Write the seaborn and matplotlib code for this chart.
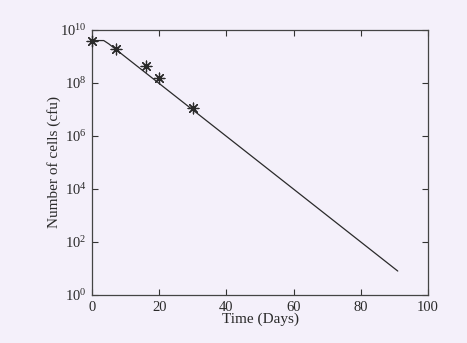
import numpy as np
import pandas as pd
import seaborn as sns
import matplotlib
matplotlib.use("Agg")
import matplotlib.pyplot as plt

# measured points (asterisks)
obs_days = [0, 7, 16, 20, 30]
obs_cells = [4.0e9, 2.0e9, 4.2e8, 1.6e8, 1.1e7]

# fitted curve: short lag, then log-linear decline
fit_days = [0, 3.5, 5, 91]
fit_cells = [4.0e9, 4.0e9, 3.0e9, 8.0]

obs = pd.DataFrame({"day": obs_days, "cells": obs_cells})
fit = pd.DataFrame({"day": fit_days, "cells": fit_cells})

sns.set_style("ticks")
plt.rcParams["font.family"] = ["Liberation Serif", "DejaVu Serif"]
plt.rcParams["font.size"] = 10.5

bg = "#f4f0fa"
fig = plt.figure(figsize=(4.67, 3.43), dpi=100, facecolor=bg)
ax = fig.add_axes([0.197, 0.140, 0.7195, 0.7725])
ax.set_facecolor(bg)

sns.lineplot(data=fit, x="day", y="cells", color="#2a2a2a", linewidth=0.9, ax=ax)
sns.scatterplot(data=obs, x="day", y="cells", marker=(8, 2, 0), s=60,
                color="#2a2a2a", edgecolor="#2a2a2a", linewidth=0.9, ax=ax,
                zorder=3, clip_on=False)

ax.set_yscale("log")
ax.set_xlim(0, 100)
ax.set_ylim(1, 1e10)
ax.set_xticks([0, 20, 40, 60, 80, 100])
ax.set_yticks([1e0, 1e2, 1e4, 1e6, 1e8, 1e10])
ax.yaxis.set_minor_locator(matplotlib.ticker.NullLocator())
ax.tick_params(direction="in", length=4, width=0.8, top=True, right=True,
               colors="#333333", labelcolor="#2a2a2a", labelsize=10.5, pad=4)
for s in ax.spines.values():
    s.set_linewidth(0.9)
    s.set_color("#444444")

ax.set_xlabel("Time (Days)", fontsize=11, color="#2a2a2a", labelpad=-1)
ax.set_ylabel("Number of cells (cfu)", fontsize=11, color="#2a2a2a", labelpad=-1)

fig.savefig("out.png", dpi=100, facecolor=bg)
